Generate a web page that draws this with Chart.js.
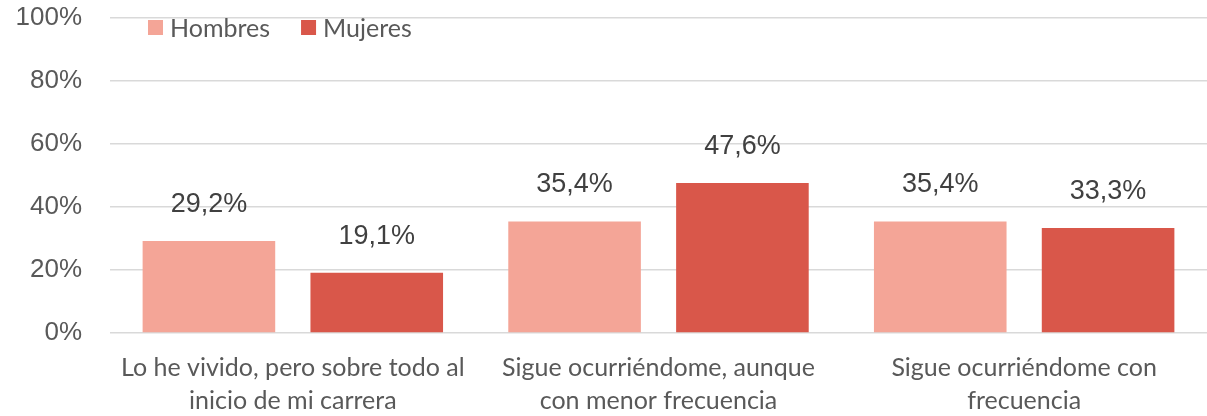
<!DOCTYPE html>
<html>
<head>
<meta charset="utf-8">
<script src="https://cdn.jsdelivr.net/npm/chart.js@4"></script>
<style>
  html, body { margin: 0; padding: 0; background: #fff; }
  #wrap { width: 1207px; height: 416px; }
</style>
</head>
<body>
<div id="wrap"><canvas id="barchart"></canvas></div>
<script>
'use strict';
const categories = [
    ['Lo he vivido, pero sobre todo al', 'inicio de mi carrera'],
    ['Sigue ocurriéndome, aunque', 'con menor frecuencia'],
    ['Sigue ocurriéndome con', 'frecuencia']
];
const hombres = [29.2, 35.4, 35.4];
const mujeres = [19.1, 47.6, 33.3];
const yTicks = [0, 20, 40, 60, 80, 100];

const fmt = v => v.toFixed(1).replace('.', ',') + '%';
const labelFont = 'Lato, "Open Sans", sans-serif';

// value above each bar
const valueLabels = {
    id: 'valueLabels',
    afterDatasetsDraw(chart) {
        const ctx = chart.ctx;
        ctx.save();
        ctx.font = '27px "Liberation Sans", Arial, sans-serif';
        ctx.fillStyle = '#404040';
        ctx.textAlign = 'center';
        ctx.textBaseline = 'alphabetic';
        chart.data.datasets.forEach((ds, i) => {
            chart.getDatasetMeta(i).data.forEach((bar, j) => {
                ctx.fillText(fmt(ds.data[j]), bar.x, bar.y - 29);
            });
        });
        ctx.restore();
    }
};

// legend in one row inside the plot, over the top gridline
const insideLegend = {
    id: 'insideLegend',
    afterDraw(chart) {
        const ctx = chart.ctx;
        const area = chart.chartArea;
        let x = area.left + 38;
        const y = 28;
        ctx.save();
        ctx.font = '25px ' + labelFont;
        ctx.textBaseline = 'middle';
        ctx.textAlign = 'left';
        chart.data.datasets.forEach(ds => {
            ctx.fillStyle = ds.backgroundColor;
            ctx.fillRect(x, y - 8, 15, 15);
            x += 22;
            ctx.fillStyle = '#595959';
            ctx.fillText(ds.label, x, y + 1);
            x += ctx.measureText(ds.label).width + 31;
        });
        ctx.restore();
    }
};

const barChart = () => {
    new Chart(document.querySelector('#barchart'), {
        type: 'bar',
        data: {
            labels: categories,
            datasets: [{
                label: 'Hombres',
                data: hombres,
                backgroundColor: '#F4A597'
            },
            {
                label: 'Mujeres',
                data: mujeres,
                backgroundColor: '#D9574A'
            }
        ]},
        options: {
            responsive: true,
            maintainAspectRatio: false,
            animation: false,
            categoryPercentage: 0.918,
            barPercentage: 0.79,
            layout: { padding: { top: 0, right: 0, left: 0, bottom: -12 } },
            plugins: {
                legend: { display: false },
                tooltip: { enabled: false }
            },
            scales: {
                y: {
                    min: 0,
                    max: 100,
                    afterBuildTicks: axis => { axis.ticks = yTicks.map(v => ({ value: v })); },
                    afterFit: axis => {
                        axis.width = 110;
                        axis.paddingTop = 18;
                        axis.paddingBottom = 0;
                    },
                    ticks: {
                        callback: v => v + '%',
                        color: '#595959',
                        padding: 28,
                        font: { family: '"Liberation Sans", Arial, sans-serif', size: 26 }
                    },
                    grid: { color: '#D9D9D9', lineWidth: 1.5, drawTicks: false },
                    border: { display: false }
                },
                x: {
                    ticks: {
                        color: '#595959',
                        padding: 11,
                        maxRotation: 0,
                        font: { family: labelFont, size: 25, lineHeight: 1.3 }
                    },
                    grid: { display: false },
                    border: { display: false }
                }
            }
        },
        plugins: [valueLabels, insideLegend]
    });
};

barChart();
</script>
</body>
</html>
